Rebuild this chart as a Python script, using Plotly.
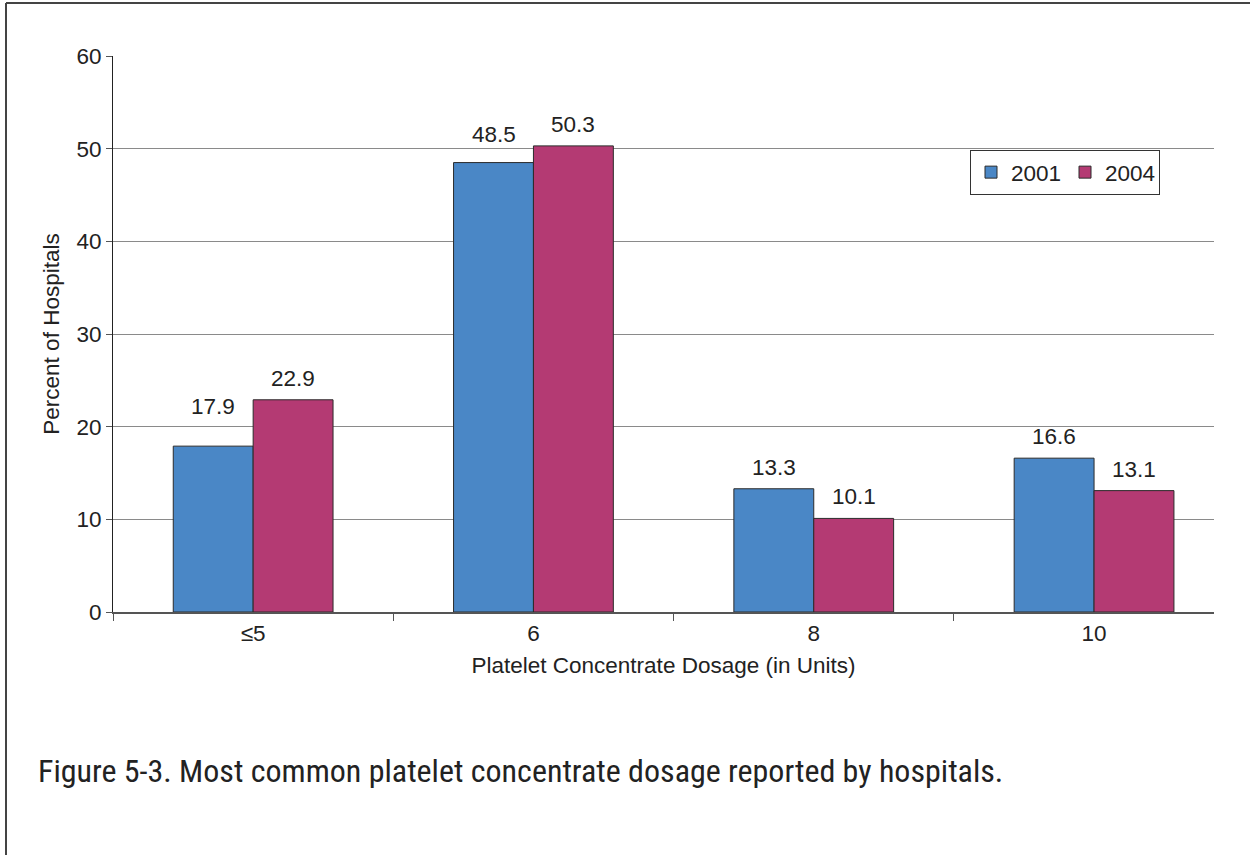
import plotly.graph_objects as go

categories = ["\u22645", "6", "8", "10"]
values_2001 = [17.9, 48.5, 13.3, 16.6]
values_2004 = [22.9, 50.3, 10.1, 13.1]
series_names = ["2001", "2004"]
y_ticks = [0, 10, 20, 30, 40, 50, 60]

# label vertical offsets (px) as placed in the original
label_shift_2001 = [25, 14, 7, 7]
label_shift_2004 = [7, 7, 7, 7]

W, H = 1250, 855
L, R, T, B = 113, 36, 56, 243
pw = W - L - R
ph = H - T - B
FS = 22.5

font_main = "Liberation Sans, Arial, sans-serif"

fig = go.Figure()
fig.add_trace(go.Bar(
    x=categories, y=values_2001, name=series_names[0],
    marker=dict(color="#4a87c6", line=dict(color="#2b2b2b", width=1)),
))
fig.add_trace(go.Bar(
    x=categories, y=values_2004, name=series_names[1],
    marker=dict(color="#b43a73", line=dict(color="#2b2b2b", width=1)),
))

def px_x(px):
    return (px - L) / pw

def px_y(py):
    return (H - B - py) / ph

cat_px = 280.3
bar_half = cat_px * (1 - 0.43) / 4

annotations = []
for vals, shifts, sgn in ((values_2001, label_shift_2001, -1), (values_2004, label_shift_2004, 1)):
    for i, (v, s) in enumerate(zip(vals, shifts)):
        annotations.append(dict(
            x=i, y=v, xref="x", yref="y", text=f"{v:.1f}", showarrow=False,
            xanchor="center", yanchor="bottom", xshift=sgn * bar_half, yshift=s,
            font=dict(size=FS, color="#222"),
        ))

annotations.append(dict(
    text="Figure 5-3. Most common platelet concentrate dosage reported by hospitals.",
    xref="paper", yref="paper", x=px_x(36), y=px_y(771), xanchor="left", yanchor="middle",
    showarrow=False,
    font=dict(family="Liberation Sans Narrow, Arial Narrow, Roboto Condensed, Roboto, sans-serif",
              size=32, color="#222"),
))

fig.update_layout(
    width=W, height=H,
    margin=dict(l=L, r=R, t=T, b=B, autoexpand=False),
    paper_bgcolor="white", plot_bgcolor="white",
    barmode="group", bargap=0.43, bargroupgap=0,
    font=dict(family=font_main, size=FS, color="#222"),
    legend=dict(
        orientation="h", x=px_x(970), y=px_y(150), xanchor="left", yanchor="top",
        bordercolor="#333", borderwidth=1, bgcolor="white",
        font=dict(size=FS, color="#222"), itemwidth=30,
        entrywidth=49, entrywidthmode="pixels",
        tracegroupgap=0, traceorder="normal",
    ),
    xaxis=dict(
        range=[-0.5, -0.5 + pw / cat_px], showgrid=False,
        showline=True, linecolor="#555", linewidth=1.5,
        ticks="outside", tickson="boundaries", ticklen=7, tickcolor="#555",
        tickfont=dict(size=FS, color="#222"),
        title=dict(text="Platelet Concentrate Dosage (in Units)", font=dict(size=FS, color="#222"), standoff=12),
        fixedrange=True,
    ),
    yaxis=dict(
        range=[0, 60], tickvals=y_ticks, showgrid=True, gridcolor="#8a8a8a", gridwidth=1,
        showline=True, linecolor="#222", linewidth=1,
        ticks="outside", ticklen=6, tickcolor="#555",
        tickfont=dict(size=FS, color="#222"),
        title=dict(text="Percent of Hospitals", font=dict(size=FS, color="#222"), standoff=10),
        zeroline=False, fixedrange=True,
    ),
    shapes=[
        dict(type="line", xref="paper", yref="paper", x0=px_x(6), x1=px_x(6), y0=px_y(3), y1=px_y(855),
             line=dict(color="#444", width=2)),
        dict(type="line", xref="paper", yref="paper", x0=px_x(6), x1=px_x(1250), y0=px_y(3), y1=px_y(3),
             line=dict(color="#444", width=2)),
    ],
    annotations=annotations,
)

fig.write_html("out.html", config={"displayModeBar": False},
               post_script="document.body.style.margin='0';document.body.style.padding='0';")
